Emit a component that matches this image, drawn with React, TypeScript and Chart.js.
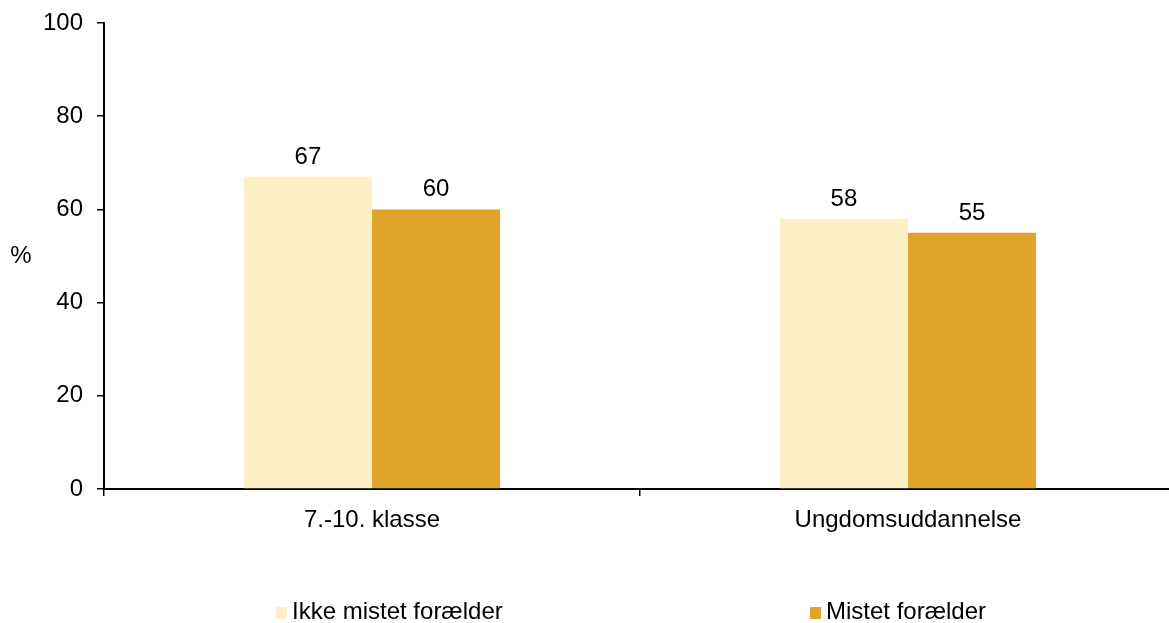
import { useEffect, useRef } from "react";
import { Chart, registerables } from "chart.js";

Chart.register(...registerables);

const categories = ["7.-10. klasse", "Ungdomsuddannelse"];
const seriesLabels = ["Ikke mistet forælder", "Mistet forælder"];
const ikkeMistetValues = [67, 58];
const mistetValues = [60, 55];
const yTickValues = [0, 20, 40, 60, 80, 100];
const yAxisTitle = "%";

const seriesColors = ["#FDF0C6", "#E0A42A"];
const FONT_FAMILY = "'Liberation Sans', Arial, Helvetica, sans-serif";
const FONT_SIZE = 24;

const W = 1177;
const H = 623;

const valueLabelPlugin = {
  id: "valueLabels",
  afterDatasetsDraw(chart: any) {
    const ctx = chart.ctx;
    ctx.save();
    ctx.font = `${FONT_SIZE}px ${FONT_FAMILY}`;
    ctx.fillStyle = "#000";
    ctx.textAlign = "center";
    ctx.textBaseline = "alphabetic";
    chart.data.datasets.forEach((ds: any, di: number) => {
      const meta = chart.getDatasetMeta(di);
      meta.data.forEach((bar: any, i: number) => {
        ctx.fillText(String(ds.data[i]), bar.x, bar.y - 13);
      });
    });
    ctx.restore();
  },
};

const extrasPlugin = {
  id: "extras",
  afterDraw(chart: any) {
    const ctx = chart.ctx;
    const area = chart.chartArea;
    ctx.save();
    ctx.font = `${FONT_SIZE}px ${FONT_FAMILY}`;
    ctx.fillStyle = "#000";
    // y axis title (horizontal)
    ctx.textAlign = "center";
    ctx.textBaseline = "middle";
    ctx.fillText(yAxisTitle, 21, (area.top + area.bottom) / 2);
    // legend
    const boxX = [276, 810];
    const boxW = 11;
    const boxH = 12;
    const baseY = 619;
    chart.data.datasets.forEach((ds: any, di: number) => {
      ctx.fillStyle = ds.backgroundColor;
      ctx.fillRect(boxX[di], baseY - boxH, boxW, boxH);
      ctx.fillStyle = "#000";
      ctx.textAlign = "left";
      ctx.textBaseline = "alphabetic";
      ctx.fillText(ds.label, boxX[di] + boxW + 5, baseY);
    });
    ctx.restore();
  },
};

export default function App() {
  const canvasRef = useRef<HTMLCanvasElement | null>(null);

  useEffect(() => {
    if (!canvasRef.current) return;
    const chart = new Chart(canvasRef.current, {
      type: "bar",
      data: {
        labels: categories,
        datasets: [
          {
            label: seriesLabels[0],
            data: ikkeMistetValues,
            backgroundColor: seriesColors[0],
            categoryPercentage: 0.478,
            barPercentage: 1,
          },
          {
            label: seriesLabels[1],
            data: mistetValues,
            backgroundColor: seriesColors[1],
            categoryPercentage: 0.478,
            barPercentage: 1,
          },
        ],
      },
      options: {
        responsive: false,
        animation: false,
        devicePixelRatio: 1,
        layout: { padding: { top: 23, right: 1, left: 0, bottom: 0 } },
        plugins: {
          legend: { display: false },
          tooltip: { enabled: false },
        },
        scales: {
          x: {
            grid: {
              display: true,
              drawOnChartArea: false,
              drawTicks: true,
              tickLength: 7,
              color: "#000",
              lineWidth: 1.5,
              offset: true,
            },
            border: { display: true, color: "#000", width: 2 },
            ticks: {
              color: "#000",
              font: { family: FONT_FAMILY, size: FONT_SIZE },
              padding: 10,
            },
            afterFit: (s: any) => {
              s.height = H - 489;
              s.paddingLeft = 0;
              s.paddingRight = 0;
            },
          },
          y: {
            min: 0,
            max: 100,
            afterBuildTicks: (s: any) => {
              s.ticks = yTickValues.map((v) => ({ value: v }));
            },
            grid: {
              display: true,
              drawOnChartArea: false,
              drawTicks: true,
              tickLength: 7,
              color: "#000",
              lineWidth: 1.5,
            },
            border: { display: true, color: "#000", width: 2 },
            ticks: {
              color: "#000",
              font: { family: FONT_FAMILY, size: FONT_SIZE },
              padding: 14,
            },
            afterFit: (s: any) => {
              s.width = 104;
              s.paddingTop = 0;
              s.paddingBottom = 0;
            },
          },
        },
      },
      plugins: [valueLabelPlugin, extrasPlugin],
    });
    return () => chart.destroy();
  }, []);

  return (
    <div
      style={{
        position: "fixed",
        top: 0,
        left: 0,
        width: 1169,
        height: H,
        overflow: "hidden",
        background: "#fff",
      }}
    >
      <canvas
        ref={canvasRef}
        width={W}
        height={H}
        style={{ width: W, height: H, display: "block" }}
      />
    </div>
  );
}
